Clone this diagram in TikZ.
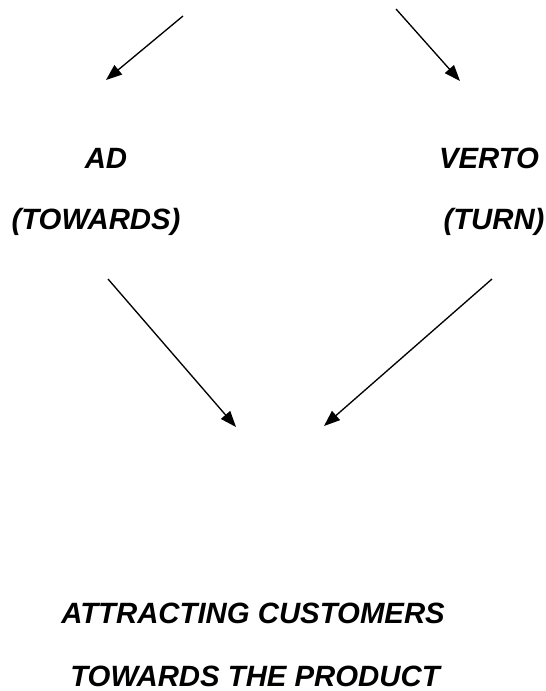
\documentclass[tikz,border=0pt]{standalone}
\usepackage{fontspec}
\setmainfont{Liberation Sans}
\usetikzlibrary{arrows.meta}

\begin{document}
\begin{tikzpicture}[x=0.75pt,y=-0.75pt,
        parola/.style={font=\fontsize{22}{26}\selectfont\bfseries\itshape, inner sep=0pt},
        freccia/.style={line width=1pt, -{Triangle[length=12pt,width=9pt]}}]
        \useasboundingbox (0,0) rectangle (545,691);

        % Parole latine
        \node[parola] (ad) at (106,158) {AD}; % sinistra
        \node[parola] (towards) at (96,222) {(TOWARDS)};
        \node[parola] (verto) at (489,158) {VERTO}; % destra
        \node[parola] (turn) at (494,222) {(TURN)};

        % Significato finale
        \node[parola] (attract) at (253,613) {ATTRACTING CUSTOMERS};
        \node[parola] (product) at (255,676) {TOWARDS THE PRODUCT};

        % Estremi delle frecce
        \coordinate (tl0) at (183,16);
        \coordinate (tl1) at (106,80);
        \coordinate (tr0) at (396,9);
        \coordinate (tr1) at (460,81);
        \coordinate (ml0) at (108,279);
        \coordinate (ml1) at (236,427);
        \coordinate (mr0) at (492,279);
        \coordinate (mr1) at (324,426);

        % Frecce
        \draw[freccia] (tl0) -- (tl1);
        \draw[freccia] (tr0) -- (tr1);
        \draw[freccia] (ml0) -- (ml1);
        \draw[freccia] (mr0) -- (mr1);
    \end{tikzpicture}
\end{document}
